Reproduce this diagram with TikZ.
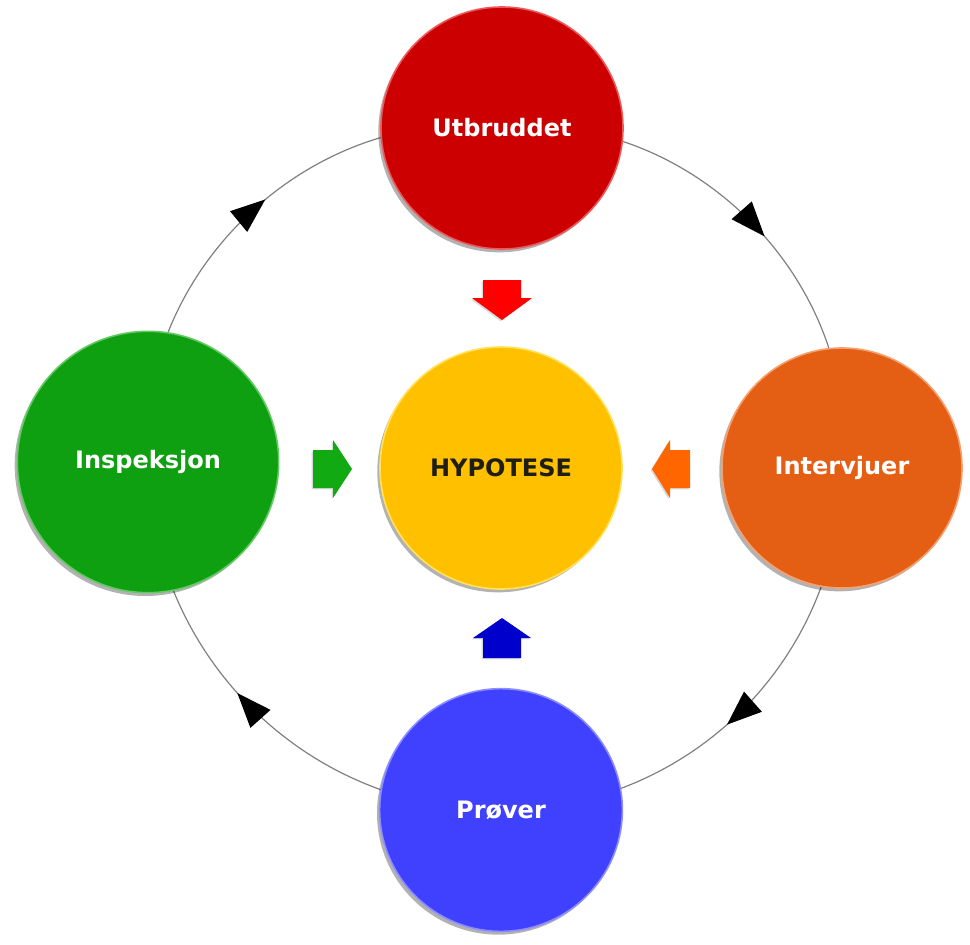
\documentclass[tikz,border=0pt]{standalone}
\usepackage{fontspec}
\setmainfont{DejaVu Sans}
\usepackage{xcolor}
\usepackage{tikz}
\usetikzlibrary{shadows,backgrounds,decorations.markings,arrows.meta}

\tikzset{
  bubble/.style={circle, inner sep=0pt, line width=1.2pt, font=\fontsize{18}{20}\selectfont\bfseries, text=white,
    drop shadow={shadow xshift=-2pt, shadow yshift=-2.5pt, fill=black, opacity=0.3}},
  ringline/.style={draw={rgb, 255:red, 128; green, 128; blue, 128 }, line width=0.9pt, postaction={decorate},
    decoration={markings, mark=at position 0.54 with {\arrow{Triangle[length=26pt,width=20pt,color=black]}}}},
  blockarr/.style={draw=none, drop shadow={shadow xshift=-1pt, shadow yshift=-1pt, fill=black, opacity=0.15}}
}

\begin{document}
\begin{tikzpicture}[x=0.75pt,y=0.75pt,yscale=-1,xscale=1]
\useasboundingbox (0,0) rectangle (970,945);

%Shape: Circle
\node[bubble, fill={rgb, 255:red, 204; green, 0; blue, 0 }, draw={rgb, 255:red, 235; green, 90; blue, 90 }, minimum size=181.5pt] (utb) at (502,128) {Utbruddet};
%Shape: Circle
\node[bubble, fill={rgb, 255:red, 255; green, 192; blue, 0 }, draw={rgb, 255:red, 255; green, 225; blue, 90 }, text={rgb, 255:red, 30; green, 30; blue, 20 }, minimum size=181.5pt] (hyp) at (501,468) {HYPOTESE};
%Shape: Circle
\node[bubble, fill={rgb, 255:red, 228; green, 94; blue, 20 }, draw={rgb, 255:red, 245; green, 160; blue, 110 }, minimum size=180pt] (int) at (842,468) {Intervjuer};
%Shape: Circle
\node[bubble, fill={rgb, 255:red, 64; green, 64; blue, 255 }, draw={rgb, 255:red, 140; green, 140; blue, 255 }, minimum size=182pt] (pro) at (501,810) {Prøver};
%Shape: Circle
\node[bubble, fill={rgb, 255:red, 14; green, 160; blue, 16 }, draw={rgb, 255:red, 100; green, 200; blue, 100 }, minimum size=196pt] (ins) at (148,462) {Inspeksjon};

%Ring
\begin{scope}[on background layer]
\draw[ringline] (utb.center) to[bend right=51] (int.center);
\draw[ringline] (int.center) to[bend right=45] (pro.center);
\draw[ringline] (pro.center) to[bend right=45] (ins.center);
\draw[ringline] (ins.center) to[bend right=51] (utb.center);
\end{scope}

%Down Arrow
\draw[blockarr, fill={rgb, 255:red, 255; green, 0; blue, 0 }] (483,280) -- (521,280) -- (521,298) -- (532,298) -- (502,320) -- (472,298) -- (483,298) -- cycle ;
%Right Arrow
\draw[blockarr, fill={rgb, 255:red, 18; green, 170; blue, 18 }] (313,450) -- (333,450) -- (333,440) -- (352,469) -- (333,498) -- (333,488) -- (313,488) -- cycle ;
%Left Arrow
\draw[blockarr, fill={rgb, 255:red, 255; green, 102; blue, 0 }] (690,450) -- (670,450) -- (670,440) -- (652,469) -- (670,498) -- (670,488) -- (690,488) -- cycle ;
%Up Arrow
\draw[blockarr, fill={rgb, 255:red, 0; green, 0; blue, 204 }] (483,658) -- (521,658) -- (521,638) -- (531,638) -- (502,618) -- (473,638) -- (483,638) -- cycle ;

\end{tikzpicture}
\end{document}
